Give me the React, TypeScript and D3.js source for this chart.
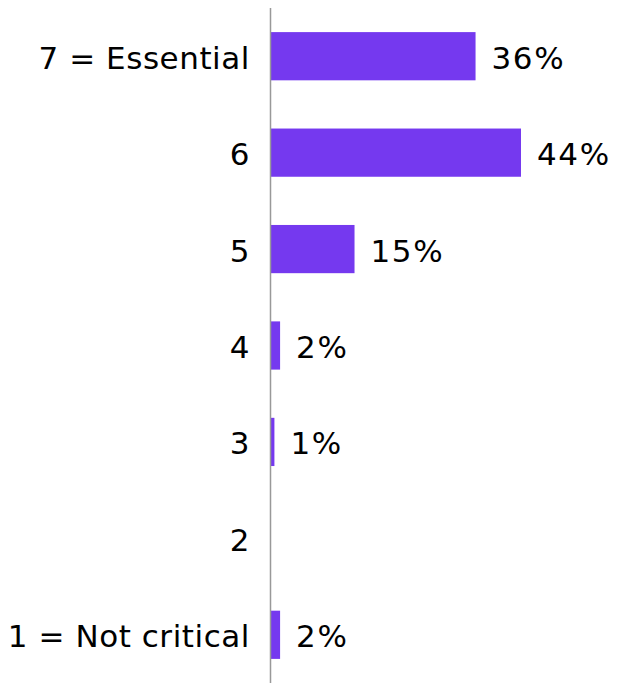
import React from "react";
import * as d3 from "d3";

const categories = ["7 = Essential", "6", "5", "4", "3", "2", "1 = Not critical"];
const values = [36, 44, 14.7, 1.6, 0.6, 0, 1.6];
const labels = ["36%", "44%", "15%", "2%", "1%", "", "2%"];

const W = 618;
const H = 683;
const FONT = "Verdana, 'DejaVu Sans', sans-serif";

export default function App() {
  const y = d3
    .scaleBand<string>()
    .domain(categories)
    .range([8, 683])
    .paddingInner(0.5)
    .paddingOuter(0.25);
  const x = d3.scaleLinear().domain([0, 44]).range([271, 521]);
  const bw = y.bandwidth();
  return (
    <svg
      width={W}
      height={H}
      style={{ position: "absolute", left: 0, top: 0, background: "#fff" }}
      fontFamily={FONT}
    >
      {categories.map((c, i) => {
        const yc = (y(c) ?? 0) + bw / 2;
        return (
          <g key={c}>
            {values[i] > 0 && (
              <rect
                x={x(0)}
                y={y(c)}
                width={x(values[i]) - x(0)}
                height={bw}
                fill="#7539EF"
              />
            )}
            <text
              x={250}
              y={yc + 12.5}
              textAnchor="end"
              fontSize={31}
              letterSpacing={0.55}
              fill="#000"
            >
              {c}
            </text>
            {labels[i] && (
              <text
                x={x(values[i]) + 16}
                y={yc + 12.5}
                fontSize={31}
                letterSpacing={1.6}
                fill="#000"
              >
                {labels[i]}
              </text>
            )}
          </g>
        );
      })}
      <line x1={270.5} x2={270.5} y1={8} y2={683} stroke="#999" strokeWidth={1.5} />
    </svg>
  );
}
